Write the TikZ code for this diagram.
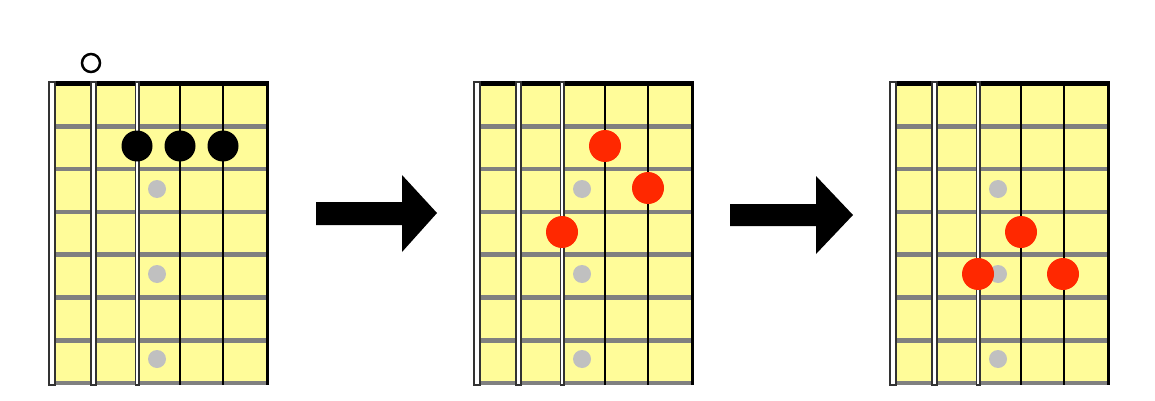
\documentclass[tikz,border=0pt]{standalone}
\definecolor{boardyellow}{RGB}{255,252,153}
\definecolor{fretgray}{RGB}{128,128,128}
\definecolor{markgray}{RGB}{192,192,192}
\definecolor{notered}{RGB}{255,40,0}
\begin{document}
\begin{tikzpicture}[x=1pt,y=-1pt,line join=miter]
  \useasboundingbox (0,0) rectangle (1155,401);
  \foreach \o in {0,425,841} {
      \fill [boardyellow] (\o+51,83) rectangle (\o+267,383);
      \foreach \k in {1,...,7} {
          \draw [fretgray, line width=4.5] (\o+51,83.5+42.8*\k) -- (\o+267,83.5+42.8*\k);
        }
      \draw [black, line width=5] (\o+51,84) -- (\o+267,84);
      \draw [black, line width=2] (\o+180,82) -- (\o+180,385);
      \draw [black, line width=2] (\o+223,82) -- (\o+223,385);
      \draw [black, line width=3] (\o+267,81.5) -- (\o+267,385);
      \filldraw [fill=white, draw=black!80, line width=1.5] (\o+49,82) rectangle (\o+55,385);
      \filldraw [fill=white, draw=black!80, line width=1.5] (\o+91,82) rectangle (\o+96,385);
      \filldraw [fill=white, draw=black!80, line width=1.5] (\o+135.5,82) rectangle (\o+139,385);
      \foreach \y in {189,274,359} {
          \fill [markgray] (\o+157,\y) circle (9pt);
        }
    }
  % chord shape
  \draw [black, line width=2.5, fill=white] (91,63) circle (9pt);
  \foreach \x in {137,180,223} {
      \fill [black] (\x,146) circle (15.5pt);
    }
  % moving notes
  \fill [notered] (605,146) circle (16pt);
  \fill [notered] (648,188) circle (16pt);
  \fill [notered] (562,232) circle (16pt);
  \fill [notered] (1021,232) circle (16pt);
  \fill [notered] (978,274) circle (16pt);
  \fill [notered] (1063,274) circle (16pt);
  % arrows
  \fill [black] (316,202) -- (402,202) -- (402,175) -- (437,213) -- (402,252) -- (402,225) -- (316,225) -- cycle;
  \fill [black] (730,204) -- (816,204) -- (816,176) -- (853,215) -- (816,254) -- (816,226) -- (730,226) -- cycle;
\end{tikzpicture}
\end{document}
